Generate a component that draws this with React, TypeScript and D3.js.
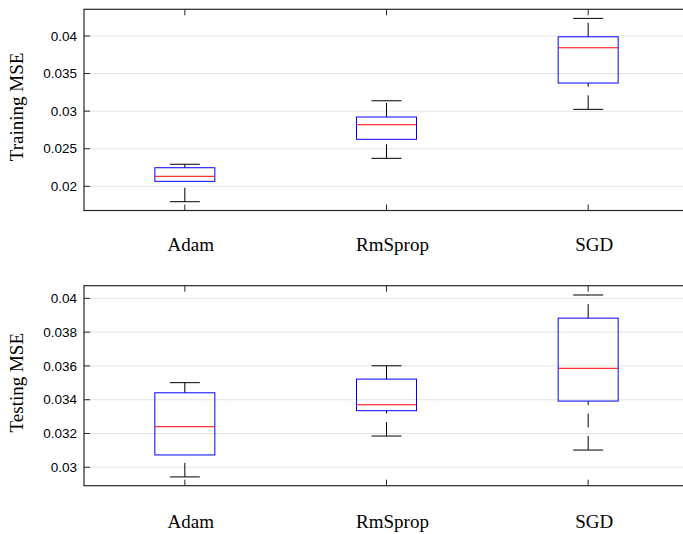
import React from "react";
import * as d3 from "d3";

// Optimizer categories on the x axis
const categories = ["Adam", "RmSprop", "SGD"];

// Training MSE box statistics per optimizer
const trainLower = [0.01795, 0.02372, 0.03024];
const trainQ1 = [0.02066, 0.02625, 0.03374];
const trainMedian = [0.02133, 0.02819, 0.03843];
const trainQ3 = [0.02247, 0.02922, 0.03989];
const trainUpper = [0.02293, 0.03138, 0.04234];

// Testing MSE box statistics per optimizer
const testLower = [0.02943, 0.03185, 0.03102];
const testQ1 = [0.03073, 0.03335, 0.03392];
const testMedian = [0.0324, 0.0337, 0.03586];
const testQ3 = [0.03441, 0.03522, 0.03883];
const testUpper = [0.03501, 0.03601, 0.0402];

// Axis ticks
const trainTicks = [0.02, 0.025, 0.03, 0.035, 0.04];
const trainTickLabels = ["0.02", "0.025", "0.03", "0.035", "0.04"];
const testTicks = [0.03, 0.032, 0.034, 0.036, 0.038, 0.04];
const testTickLabels = ["0.03", "0.032", "0.034", "0.036", "0.038", "0.04"];

const trainDomain = [0.01678, 0.04355];
const testDomain = [0.02891, 0.04075];

const LEFT = 84;
const RIGHT = 689;
const TICK = 6;
const DASH = "14,8.5";

type PanelProps = {
  top: number;
  bottom: number;
  domain: number[];
  ticks: number[];
  tickLabels: string[];
  lower: number[];
  q1: number[];
  median: number[];
  q3: number[];
  upper: number[];
  yLabel: string;
  labelOffset: number;
};

function Panel(p: PanelProps) {
  const x = d3.scaleLinear().domain([0.5, 3.5]).range([LEFT, RIGHT]);
  const y = d3.scaleLinear().domain(p.domain).range([p.bottom, p.top]);
  const boxHalf = 30;
  const capHalf = 15;
  const spine = "#262626";

  return (
    <g>
      {/* grid */}
      {p.ticks.map((t) => (
        <line key={"g" + t} x1={LEFT} x2={RIGHT} y1={y(t)} y2={y(t)} stroke="#e3e3e3" strokeWidth={1} />
      ))}
      {/* boxes */}
      {categories.map((c, i) => {
        const cx = x(i + 1);
        const yL = y(p.lower[i]);
        const yQ1 = y(p.q1[i]);
        const yQ3 = y(p.q3[i]);
        const yU = y(p.upper[i]);
        const yM = y(p.median[i]);
        return (
          <g key={c}>
            {/* lower whisker drawn upward from the cap */}
            <line x1={cx} x2={cx} y1={yL} y2={yQ1} stroke="#000" strokeWidth={1} strokeDasharray={DASH} />
            {/* upper whisker drawn upward from the box */}
            <line x1={cx} x2={cx} y1={yQ3} y2={yU} stroke="#000" strokeWidth={1} strokeDasharray={DASH} />
            <line x1={cx - capHalf} x2={cx + capHalf} y1={yL} y2={yL} stroke="#000" strokeWidth={1} />
            <line x1={cx - capHalf} x2={cx + capHalf} y1={yU} y2={yU} stroke="#000" strokeWidth={1} />
            <rect x={cx - boxHalf} y={yQ3} width={boxHalf * 2} height={yQ1 - yQ3} fill="none" stroke="#0000ff" strokeWidth={1} />
            <line x1={cx - boxHalf} x2={cx + boxHalf} y1={yM} y2={yM} stroke="#ff0000" strokeWidth={1} />
          </g>
        );
      })}
      {/* spines */}
      <rect x={LEFT} y={p.top} width={RIGHT - LEFT} height={p.bottom - p.top} fill="none" stroke={spine} strokeWidth={1.2} />
      {/* y ticks and labels */}
      {p.ticks.map((t, i) => (
        <g key={"t" + t}>
          <line x1={LEFT} x2={LEFT + TICK} y1={y(t)} y2={y(t)} stroke={spine} strokeWidth={1} />
          <line x1={RIGHT - TICK} x2={RIGHT} y1={y(t)} y2={y(t)} stroke={spine} strokeWidth={1} />
          <text
            x={LEFT - 7}
            y={y(t)}
            dy="0.35em"
            textAnchor="end"
            fontFamily="Liberation Sans, Arial, sans-serif"
            fontSize={13.5}
            fill="#000"
          >
            {p.tickLabels[i]}
          </text>
        </g>
      ))}
      {/* x ticks and category labels */}
      {categories.map((c, i) => (
        <g key={"x" + c}>
          <line x1={x(i + 1)} x2={x(i + 1)} y1={p.bottom} y2={p.bottom - TICK} stroke={spine} strokeWidth={1} />
          <line x1={x(i + 1)} x2={x(i + 1)} y1={p.top} y2={p.top + TICK} stroke={spine} strokeWidth={1} />
          <text
            x={x(i + 1) + 6}
            y={p.bottom + p.labelOffset}
            textAnchor="middle"
            fontFamily="Liberation Serif, Times New Roman, serif"
            fontSize={19}
            fill="#000"
          >
            {c}
          </text>
        </g>
      ))}
      {/* y axis title */}
      <text
        transform={`translate(23,${(p.top + p.bottom) / 2 - 3}) rotate(-90)`}
        textAnchor="middle"
        fontFamily="Liberation Serif, Times New Roman, serif"
        fontSize={19}
        fill="#000"
      >
        {p.yLabel}
      </text>
    </g>
  );
}

export default function App() {
  return (
    <div style={{ position: "absolute", left: 0, top: 0 }}>
      <style>{"body{margin:0}"}</style>
      <svg width={683} height={534} style={{ display: "block", background: "#fff" }}>
        <Panel
          top={9.3}
          bottom={210.5}
          domain={trainDomain}
          ticks={trainTicks}
          tickLabels={trainTickLabels}
          lower={trainLower}
          q1={trainQ1}
          median={trainMedian}
          q3={trainQ3}
          upper={trainUpper}
          yLabel="Training MSE"
          labelOffset={40}
        />
        <Panel
          top={285.7}
          bottom={485.7}
          domain={testDomain}
          ticks={testTicks}
          tickLabels={testTickLabels}
          lower={testLower}
          q1={testQ1}
          median={testMedian}
          q3={testQ3}
          upper={testUpper}
          yLabel="Testing MSE"
          labelOffset={42}
        />
      </svg>
    </div>
  );
}
